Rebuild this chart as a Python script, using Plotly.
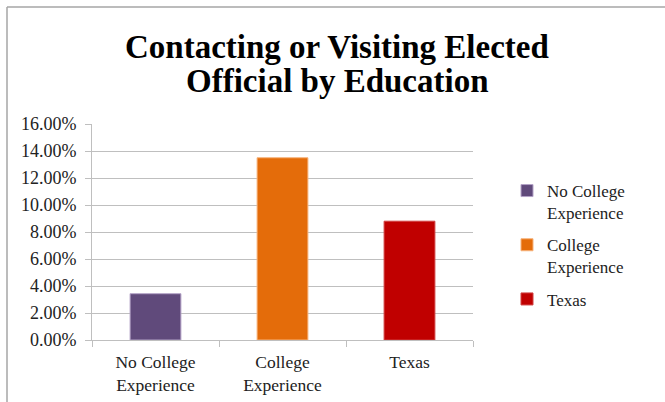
import plotly.graph_objects as go

categories = ["No College<br>Experience", "College<br>Experience", "Texas"]
legend_names = ["No College<br>Experience", "College<br>Experience", "Texas"]
values = [0.0343, 0.135, 0.088]
colors = ["#604A7B", "#E46C0A", "#C00000"]
edge_colors = ["#B3A2C7", "#F7B27A", "#D04040"]
title_lines = ["Contacting or Visiting Elected", "Official by Education"]

FONT = "Times New Roman, Liberation Serif, DejaVu Serif, serif"
W, H = 665, 402
ML, MR, MT, MB = 92, 192, 124, 62

fig = go.Figure()
for i, (cat, name, v, c, ec) in enumerate(zip(categories, legend_names, values, colors, edge_colors)):
    fig.add_trace(go.Bar(
        x=[cat], y=[v], name=name, legendgroup=f"g{i}",
        marker=dict(color=c, line=dict(color=ec, width=1)),
        width=0.4,
    ))

pw = W - ML - MR
ph = H - MT - MB
def px_x(p):
    return (p - ML) / pw
def px_y(p):
    return (H - MB - p) / ph

border = "#A6A6A6"
fig.add_shape(type="line", xref="paper", yref="paper",
              x0=px_x(7), x1=px_x(7), y0=px_y(7), y1=px_y(402),
              line=dict(color=border, width=1.5))
fig.add_shape(type="line", xref="paper", yref="paper",
              x0=px_x(7), x1=px_x(665), y0=px_y(7), y1=px_y(7),
              line=dict(color=border, width=1.5))

for line, ypx in zip(title_lines, [47, 81]):
    fig.add_annotation(
        text="<b>" + line + "</b>",
        xref="paper", yref="paper", x=px_x(337), y=px_y(ypx), xanchor="center", yanchor="middle",
        showarrow=False, font=dict(family=FONT, size=33, color="black"),
    )

fig.update_layout(
    width=W, height=H,
    margin=dict(l=ML, r=MR, t=MT, b=MB, autoexpand=False),
    paper_bgcolor="white", plot_bgcolor="white",
    barmode="overlay",
    font=dict(family=FONT, size=17, color="#222222"),
    showlegend=True,
    legend=dict(
        x=px_x(507), xanchor="left", y=px_y(173), yanchor="top",
        font=dict(family=FONT, size=17, color="#222222"),
        valign="top", tracegroupgap=7, itemwidth=30,
        bgcolor="rgba(0,0,0,0)",
    ),
    xaxis=dict(
        type="category", showgrid=False, showline=True, linecolor="#BFBFBF", linewidth=1,
        ticks="outside", tickson="boundaries", ticklen=6, tickcolor="#BFBFBF",
        ticklabelstandoff=6, automargin=False,
        tickfont=dict(family=FONT, size=17.5, color="#222222"),
    ),
    yaxis=dict(
        range=[0, 0.16], dtick=0.02, tickformat=".2%",
        showgrid=True, gridcolor="#BFBFBF", gridwidth=1,
        showline=True, linecolor="#BFBFBF", linewidth=1,
        ticks="outside", ticklen=6, tickcolor="#BFBFBF",
        ticklabelstandoff=5, automargin=False,
        tickfont=dict(family=FONT, size=18, color="#222222"),
        zeroline=False,
    ),
)

fig.write_html("out.html")
